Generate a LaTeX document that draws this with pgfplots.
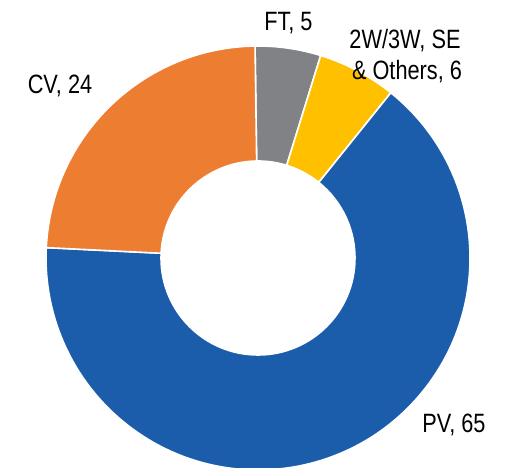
\documentclass[border=0pt]{standalone}
\usepackage{pgfplots}
\pgfplotsset{compat=1.18}
\usepackage{pgfplotstable}
\usepackage{fontspec}
\setmainfont{Liberation Sans}[FakeStretch=0.82]
\definecolor{slice0}{RGB}{128,130,133}
\definecolor{slice1}{RGB}{255,192,0}
\definecolor{slice2}{RGB}{27,93,171}
\definecolor{slice3}{RGB}{237,125,49}
\pgfplotstableread{
name value
FT 5
2W3W 6
PV 65
CV 24
}\piedata
\begin{document}
\begin{tikzpicture}
\def\cum{0}
\pgfplotsforeachungrouped \i in {0,...,3}{%
  \pgfplotstablegetelem{\i}{value}\of\piedata
  \pgfmathsetmacro\aone{90.8-3.6*\cum}%
  \pgfmathsetmacro\cumnew{\cum+\pgfplotsretval}%
  \pgfmathsetmacro\atwo{90.8-3.6*\cumnew}%
  \expandafter\xdef\csname sa\i\endcsname{\aone}%
  \expandafter\xdef\csname ea\i\endcsname{\atwo}%
  \global\let\cum\cumnew
}
\begin{axis}[name=ax, x=1pt, y=1pt, xmin=0, xmax=506, ymin=0, ymax=468,
  hide axis, clip=false]
\pgfplotsinvokeforeach{0,...,3}{
  \fill[slice#1, draw=white, line width=1.6pt, line join=round]
    (axis cs:{258+212*cos(\csname sa#1\endcsname)},{210+212*sin(\csname sa#1\endcsname)})
    arc[start angle=\csname sa#1\endcsname, end angle=\csname ea#1\endcsname, radius=212pt]
    -- (axis cs:{258+97*cos(\csname ea#1\endcsname)},{210+97*sin(\csname ea#1\endcsname)})
    arc[start angle=\csname ea#1\endcsname, end angle=\csname sa#1\endcsname, radius=97pt]
    -- cycle;
}
\begin{scope}[every node/.style={inner sep=0pt, anchor=base, font=\fontsize{26.5}{32}\selectfont}]
\node at (axis cs:288.4,437.3) {FT, 5};
\node at (axis cs:405,419.7) {2W/3W, SE};
\node at (axis cs:407,388) {\& Others, 6};
\node at (axis cs:453.9,35.7) {PV, 65};
\node at (axis cs:60,374.7) {CV, 24};
\end{scope}
\end{axis}
\pgfresetboundingbox
\path[use as bounding box] (ax.south west) rectangle (ax.north east);
\end{tikzpicture}
\end{document}
